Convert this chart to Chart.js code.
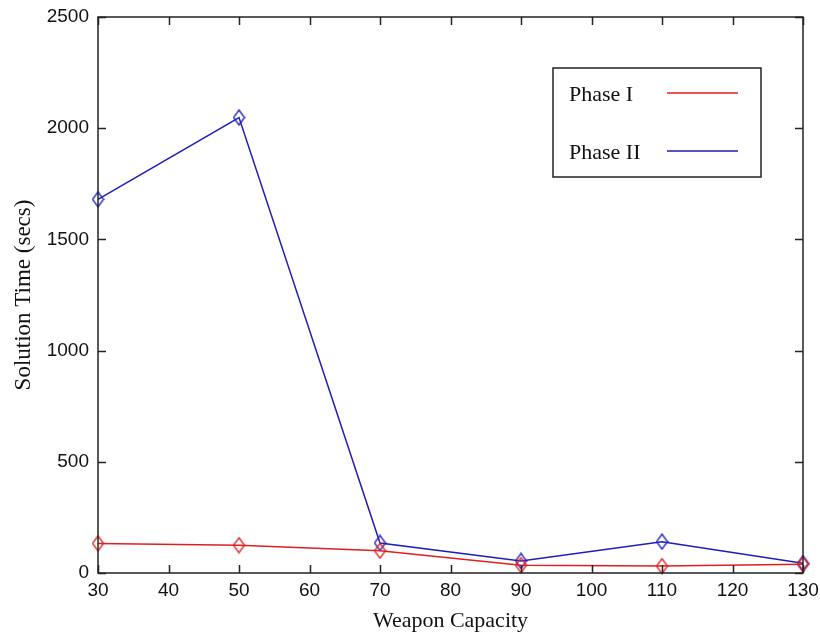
<!DOCTYPE html>
<html>
<head>
<meta charset="utf-8">
<script src="https://cdn.jsdelivr.net/npm/chart.js@4.4.1/dist/chart.umd.min.js"></script>
<style>
html,body{margin:0;padding:0;background:#fff;}
#wrap{width:820px;height:634px;position:relative;}
</style>
</head>
<body>
<div id="wrap"><canvas id="c" width="820" height="634"></canvas></div>
<script>
const capacities = [30, 50, 70, 90, 110, 130];
const phaseI  = [133, 125, 100, 35, 31, 39];
const phaseII = [1680, 2048, 135, 54, 141, 44];
const seriesLabels = ['Phase I', 'Phase II'];
const xTitle = 'Weapon Capacity';
const yTitle = 'Solution Time (secs)';

const RED = 'rgb(225,30,30)';
const BLUE = 'rgb(30,30,185)';

function diamond(color) {
  const w = 13, h = 17;
  const c = document.createElement('canvas');
  c.width = w; c.height = h;
  const g = c.getContext('2d');
  g.strokeStyle = color;
  g.lineWidth = 1.3;
  g.beginPath();
  g.moveTo(w / 2, 1); g.lineTo(w - 1, h / 2); g.lineTo(w / 2, h - 1); g.lineTo(1, h / 2);
  g.closePath();
  g.stroke();
  return c;
}

const boxTicks = {
  id: 'boxTicks',
  afterDatasetsDraw(chart) {
    const {ctx, chartArea: a, scales: {x, y}} = chart;
    ctx.save();
    ctx.strokeStyle = '#222';
    ctx.lineWidth = 1.5;
    ctx.strokeRect(a.left, a.top, a.right - a.left, a.bottom - a.top);
    const L = 8;
    ctx.beginPath();
    x.ticks.forEach(t => {
      const px = Math.round(x.getPixelForValue(t.value)) + 0.5;
      ctx.moveTo(px, a.bottom); ctx.lineTo(px, a.bottom - L);
      ctx.moveTo(px, a.top); ctx.lineTo(px, a.top + L);
    });
    y.ticks.forEach(t => {
      const py = Math.round(y.getPixelForValue(t.value)) + 0.5;
      ctx.moveTo(a.left, py); ctx.lineTo(a.left + L, py);
      ctx.moveTo(a.right, py); ctx.lineTo(a.right - L, py);
    });
    ctx.stroke();

    // legend box
    const lx = 553, ly = 68, lw = 208, lh = 109;
    ctx.fillStyle = '#fff';
    ctx.fillRect(lx, ly, lw, lh);
    ctx.lineWidth = 1.5;
    ctx.strokeStyle = '#222';
    ctx.strokeRect(lx, ly, lw, lh);
    ctx.font = '22px "Liberation Serif", serif';
    ctx.textBaseline = 'alphabetic';
    ctx.textAlign = 'left';
    const baselines = [101, 159];
    chart.data.datasets.forEach((ds, i) => {
      ctx.fillStyle = '#111';
      ctx.fillText(ds.label, 569, baselines[i]);
      ctx.strokeStyle = ds.borderColor;
      ctx.lineWidth = 1.5;
      ctx.beginPath();
      ctx.moveTo(667, baselines[i] - 8);
      ctx.lineTo(738, baselines[i] - 8);
      ctx.stroke();
    });
    ctx.restore();
  }
};

const plain = v => String(v);

new Chart(document.getElementById('c'), {
  type: 'line',
  data: {
    datasets: [
      {
        label: seriesLabels[0],
        data: capacities.map((c, i) => ({x: c, y: phaseI[i]})),
        borderColor: RED, backgroundColor: 'rgba(0,0,0,0)',
        borderWidth: 1.5, pointStyle: diamond(RED), pointRadius: 6,
        tension: 0, clip: false
      },
      {
        label: seriesLabels[1],
        data: capacities.map((c, i) => ({x: c, y: phaseII[i]})),
        borderColor: BLUE, backgroundColor: 'rgba(0,0,0,0)',
        borderWidth: 1.5, pointStyle: diamond(BLUE), pointRadius: 6,
        tension: 0, clip: false
      }
    ]
  },
  options: {
    responsive: false,
    animation: false,
    events: [],
    layout: {padding: {top: 17, right: 17, left: 0, bottom: 0}},
    plugins: {legend: {display: false}, tooltip: {enabled: false}},
    scales: {
      x: {
        type: 'linear', min: 30, max: 130,
        ticks: {stepSize: 10, color: '#111', padding: 6, callback: plain,
                font: {family: '"Liberation Sans", sans-serif', size: 19}},
        grid: {display: true, drawOnChartArea: false, drawTicks: false},
        border: {display: false},
        title: {display: true, text: xTitle, color: '#111', padding: {top: 1, bottom: 0},
                font: {family: '"Liberation Serif", serif', size: 22}},
        afterFit(s) { s.height = 61; s.paddingLeft = 0; s.paddingRight = 0; }
      },
      y: {
        type: 'linear', min: 0, max: 2500,
        ticks: {stepSize: 500, color: '#111', padding: 9, callback: plain,
                font: {family: '"Liberation Sans", sans-serif', size: 19}},
        grid: {display: true, drawOnChartArea: false, drawTicks: false},
        border: {display: false},
        title: {display: true, text: yTitle, color: '#111', padding: {top: 10, bottom: 0},
                font: {family: '"Liberation Serif", serif', size: 23}},
        afterFit(s) { s.width = 98; s.paddingTop = 0; s.paddingBottom = 0; }
      }
    }
  },
  plugins: [boxTicks]
});
</script>
</body>
</html>
